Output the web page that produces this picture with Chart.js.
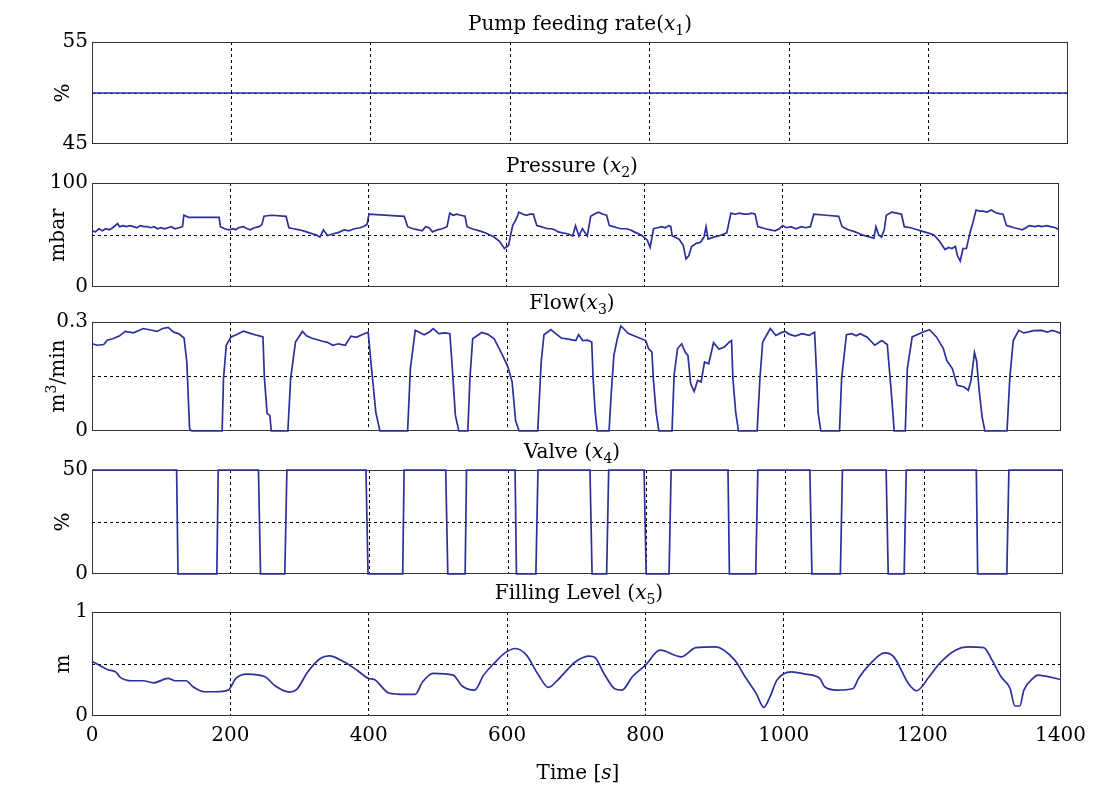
<!DOCTYPE html>
<html>
<head>
<meta charset="utf-8">
<script src="https://cdn.jsdelivr.net/npm/chart.js@4.4.1/dist/chart.umd.min.js"></script>
<style>
body { margin: 0; background: #fff; width: 1094px; height: 785px; position: relative; overflow: hidden; font-family: "DejaVu Serif", serif; color: #000; }
canvas { position: absolute; left: 0; }
.t { position: absolute; font-size: 20px; white-space: nowrap; transform: translate(-50%, -50%); }
.yl { position: absolute; font-size: 20px; white-space: nowrap; transform: translate(-50%, -50%) rotate(-90deg); }
sub { font-size: 14px; font-style: normal; }
sup { font-size: 14px; }
</style>
</head>
<body>
<canvas id="c1"></canvas>
<canvas id="c2"></canvas>
<canvas id="c3"></canvas>
<canvas id="c4"></canvas>
<canvas id="c5"></canvas>

<div class="t" style="left:580px;top:24px">Pump feeding rate(<i>x</i><sub>1</sub>)</div>
<div class="t" style="left:572px;top:166px">Pressure (<i>x</i><sub>2</sub>)</div>
<div class="t" style="left:572px;top:303px">Flow(<i>x</i><sub>3</sub>)</div>
<div class="t" style="left:572px;top:452px">Valve (<i>x</i><sub>4</sub>)</div>
<div class="t" style="left:579px;top:593px">Filling Level (<i>x</i><sub>5</sub>)</div>
<div class="t" style="left:578px;top:772px">Time [<i>s</i>]</div>

<div class="yl" style="left:62px;top:93px">%</div>
<div class="yl" style="left:57px;top:235px">mbar</div>
<div class="yl" style="left:56px;top:376px">m<sup>3</sup>/min</div>
<div class="yl" style="left:62px;top:522px">%</div>
<div class="yl" style="left:62px;top:664px">m</div>

<script>
// data
const pumpTime = [0, 1400];
const pumpValue = [50, 50];

const pressureTime = [0, 5, 10, 15, 20, 25, 30, 37, 40, 45, 50, 55, 60, 65, 70, 75, 80, 85, 90, 95, 100, 105, 110, 115, 120, 126, 131, 133, 140, 184, 186, 192, 198, 205, 208, 212, 219, 225, 229, 235, 242, 246, 249, 260, 281, 285, 292, 300, 306, 315, 325, 330, 335, 341, 348, 355, 359, 365, 372, 380, 388, 392, 398, 401, 452, 457, 465, 472, 478, 483, 488, 493, 500, 507, 514, 518, 523, 528, 534, 540, 543, 550, 561, 570, 582, 590, 597, 603, 609, 614, 618, 624, 629, 634, 639, 644, 650, 655, 660, 665, 670, 675, 681, 690, 696, 700, 705, 710, 717, 722, 727, 733, 740, 745, 749, 755, 760, 766, 773, 779, 785, 795, 799, 804, 808, 813, 819, 825, 830, 835, 838, 840, 850, 856, 860, 864, 868, 875, 881, 886, 889, 892, 900, 907, 915, 919, 925, 931, 937, 944, 950, 955, 960, 964, 970, 975, 982, 989, 995, 1000, 1005, 1012, 1019, 1027, 1033, 1040, 1045, 1063, 1081, 1086, 1095, 1105, 1112, 1120, 1132, 1135, 1139, 1143, 1147, 1150, 1158, 1165, 1172, 1176, 1185, 1195, 1200, 1210, 1219, 1227, 1235, 1240, 1245, 1250, 1253, 1257, 1261, 1266, 1271, 1275, 1280, 1285, 1290, 1296, 1302, 1310, 1319, 1324, 1330, 1335, 1341, 1347, 1352, 1357, 1365, 1370, 1375, 1382, 1388, 1395, 1400];
const pressureValue = [54, 53, 56, 54, 56, 55, 57, 61, 58, 59, 58, 59, 58, 57, 59, 58, 58, 57, 58, 56, 57, 56, 57, 58, 56, 57, 58, 69, 67, 67, 58, 56, 55, 56, 55, 57, 58, 56, 55, 57, 58, 60, 68, 69, 68, 57, 56, 55, 54, 52, 50, 48, 55, 49.5, 51, 52, 53, 55, 54, 56, 57, 58, 60, 70, 68, 58, 56, 55, 54, 58, 57, 53, 55, 56, 58, 71, 69, 70, 69, 68, 58, 56, 54, 52, 48, 44, 37, 40, 59, 65, 72, 70, 69, 70, 70, 59, 58, 57, 56, 56, 55, 53, 52, 51, 49, 59, 49, 56, 49, 68, 70, 72, 70, 69, 59, 58, 57, 56, 56, 55, 53, 50, 48, 45, 38, 56, 57, 58, 57, 59, 58, 49, 46, 40, 27, 30, 39, 42, 43, 48, 58, 46, 48, 49, 51, 52, 71, 70, 71, 70, 70, 71, 70, 58, 57, 56, 55, 54, 56, 59, 57, 58, 56, 58, 57, 58, 70, 69, 68, 58, 55, 53, 51, 49, 47, 58, 50, 48, 55, 69, 72, 71, 70, 58, 57, 55, 54, 52, 50, 44, 36, 38, 37, 39, 30, 25, 37, 37, 52, 61, 74, 73, 73, 72, 74, 71, 70, 59, 58, 57, 56, 55, 57, 59, 58, 59, 58, 59, 58, 57, 55];

const flowTime = [0, 8, 17, 22, 30, 40, 48, 60, 74, 85, 94, 102, 110, 118, 125, 133, 137, 141, 144, 188, 190, 194, 201, 210, 219, 230, 239, 247, 249, 253, 257, 259, 283, 287, 294, 304, 310, 317, 333, 340, 348, 356, 366, 374, 382, 390, 399, 403, 410, 416, 456, 460, 467, 480, 487, 493, 501, 510, 517, 520, 525, 530, 543, 546, 550, 563, 572, 581, 592, 601, 607, 612, 617, 644, 649, 653, 663, 670, 678, 690, 699, 703, 709, 716, 722, 724, 727, 730, 747, 750, 754, 759, 764, 770, 775, 783, 791, 800, 804, 809, 811, 815, 819, 838, 841, 846, 852, 857, 861, 865, 870, 875, 880, 885, 891, 898, 906, 914, 921, 924, 926, 930, 934, 961, 965, 969, 980, 988, 995, 1001, 1008, 1016, 1026, 1036, 1044, 1047, 1049, 1053, 1080, 1083, 1090, 1098, 1104, 1110, 1120, 1131, 1141, 1149, 1154, 1157, 1159, 1175, 1178, 1185, 1200, 1210, 1220, 1230, 1235, 1243, 1250, 1260, 1266, 1270, 1275, 1278, 1282, 1286, 1290, 1322, 1326, 1331, 1339, 1346, 1352, 1360, 1372, 1380, 1387, 1393, 1400];
const flowValue = [0.240, 0.236, 0.238, 0.250, 0.254, 0.262, 0.274, 0.270, 0.282, 0.278, 0.274, 0.282, 0.285, 0.272, 0.268, 0.256, 0.190, 0.006, 0, 0, 0.144, 0.236, 0.259, 0.266, 0.275, 0.268, 0.263, 0.259, 0.149, 0.048, 0.043, 0, 0, 0.144, 0.245, 0.274, 0.262, 0.256, 0.247, 0.244, 0.236, 0.240, 0.236, 0.261, 0.258, 0.265, 0.272, 0.190, 0.052, 0, 0, 0.172, 0.277, 0.265, 0.272, 0.282, 0.268, 0.270, 0.268, 0.190, 0.043, 0, 0, 0.144, 0.254, 0.271, 0.266, 0.254, 0.213, 0.176, 0.135, 0.029, 0, 0, 0.190, 0.265, 0.279, 0.268, 0.256, 0.252, 0.249, 0.265, 0.249, 0.250, 0.245, 0.144, 0.052, 0, 0, 0.098, 0.208, 0.254, 0.289, 0.278, 0.268, 0.262, 0.256, 0.249, 0.227, 0.217, 0.144, 0.052, 0, 0, 0.153, 0.227, 0.240, 0.217, 0.208, 0.130, 0.109, 0.139, 0.135, 0.190, 0.185, 0.243, 0.225, 0.232, 0.245, 0.249, 0.144, 0.052, 0, 0, 0.144, 0.245, 0.282, 0.263, 0.270, 0.274, 0.266, 0.261, 0.268, 0.263, 0.272, 0.153, 0.052, 0, 0, 0.144, 0.265, 0.268, 0.262, 0.268, 0.258, 0.236, 0.249, 0.238, 0.126, 0.052, 0, 0, 0.172, 0.259, 0.272, 0.279, 0.259, 0.227, 0.194, 0.172, 0.126, 0.121, 0.112, 0.139, 0.216, 0.194, 0.107, 0.039, 0, 0, 0.144, 0.249, 0.277, 0.270, 0.272, 0.276, 0.277, 0.272, 0.277, 0.274, 0.268];

const valveTime = [0, 122, 124, 180, 182, 240, 243, 278, 281, 395, 398, 448, 450, 510, 513, 538, 540, 610, 612, 640, 643, 718, 721, 742, 745, 796, 799, 832, 835, 917, 919, 957, 960, 1035, 1038, 1079, 1082, 1145, 1148, 1171, 1174, 1275, 1277, 1319, 1322, 1400];
const valveValue = [50, 50, 0, 0, 50, 50, 0, 0, 50, 50, 0, 0, 50, 50, 0, 0, 50, 50, 0, 0, 50, 50, 0, 0, 50, 50, 0, 0, 50, 50, 0, 0, 50, 50, 0, 0, 50, 50, 0, 0, 50, 50, 0, 0, 50, 50];

const levelTime = [0, 22, 35, 40, 58, 74, 89, 110, 120, 136, 146, 162, 177, 197, 208, 224, 250, 265, 286, 296, 312, 330, 343, 364, 384, 400, 408, 428, 441, 467, 478, 493, 522, 535, 553, 566, 581, 597, 612, 628, 644, 660, 673, 699, 719, 727, 740, 755, 766, 781, 800, 821, 852, 873, 901, 929, 944, 960, 971, 980, 990, 1011, 1031, 1052, 1059, 1077, 1100, 1108, 1123, 1146, 1159, 1180, 1192, 1210, 1225, 1248, 1266, 1289, 1301, 1314, 1327, 1334, 1341, 1347, 1360, 1367, 1400];
const levelValue = [0.527, 0.447, 0.420, 0.377, 0.339, 0.339, 0.319, 0.361, 0.339, 0.339, 0.281, 0.233, 0.233, 0.249, 0.361, 0.403, 0.377, 0.288, 0.230, 0.256, 0.425, 0.553, 0.578, 0.521, 0.435, 0.361, 0.351, 0.224, 0.211, 0.208, 0.329, 0.409, 0.393, 0.288, 0.249, 0.393, 0.505, 0.607, 0.649, 0.585, 0.409, 0.275, 0.345, 0.521, 0.575, 0.562, 0.409, 0.265, 0.249, 0.377, 0.489, 0.633, 0.569, 0.658, 0.665, 0.537, 0.377, 0.217, 0.083, 0.185, 0.345, 0.425, 0.403, 0.361, 0.281, 0.249, 0.265, 0.361, 0.489, 0.607, 0.569, 0.313, 0.243, 0.377, 0.505, 0.633, 0.665, 0.658, 0.537, 0.377, 0.265, 0.096, 0.096, 0.249, 0.361, 0.393, 0.351];

const xTicks = [0, 200, 400, 600, 800, 1000, 1200, 1400];

const lineColor = "#2b309b";

Chart.defaults.font.family = "DejaVu Serif";
Chart.defaults.font.size = 20;
Chart.defaults.color = "#000";

const frame = {
    id: "frame",
    beforeDatasetsDraw(chart) {
        const a = chart.chartArea;
        const ctx = chart.ctx;
        ctx.save();
        ctx.strokeStyle = "#333";
        ctx.lineWidth = 1;
        ctx.strokeRect(Math.round(a.left) + 0.5, Math.round(a.top) + 0.5, Math.round(a.right - a.left) - 1, Math.round(a.bottom - a.top) - 1);
        ctx.restore();
    }
};

function panel(id, top, bottom, right, times, values, yMin, yMax, yText, showX, tension) {

    const pad = 22;
    const xHeight = showX ? 36 : 0;
    const canvas = document.getElementById(id);
    const h = bottom - top + pad + xHeight + pad;

    canvas.width = 1094;
    canvas.height = h;
    canvas.style.width = "1094px";
    canvas.style.height = h + "px";
    canvas.style.top = (top - pad) + "px";

    new Chart(canvas, {
        type: "line",
        data: {
            datasets: [{
                data: times.map((t, i) => ({ x: t, y: values[i] })),
                borderColor: lineColor,
                borderWidth: 1.7,
                pointRadius: 0,
                tension: tension,
                cubicInterpolationMode: tension ? "monotone" : "default",
                clip: 3
            }]
        },
        options: {
            responsive: false,
            animation: false,
            layout: { padding: { top: pad, bottom: pad, left: 0, right: 1094 - right } },
            plugins: { legend: { display: false }, tooltip: { enabled: false } },
            scales: {
                x: {
                    type: "linear",
                    min: 0,
                    max: 1400,
                    afterBuildTicks: s => { s.ticks = xTicks.map(v => ({ value: v })); },
                    afterFit: s => { s.height = xHeight; },
                    ticks: { display: showX, autoSkip: false, maxRotation: 0, padding: 8, callback: v => String(v) },
                    grid: {
                        drawTicks: false,
                        color: c => (c.tick && c.tick.value > 0 && c.tick.value < 1400) ? "#000" : "rgba(0,0,0,0)",
                        lineWidth: 1,
                        borderDash: [3, 3]
                    },
                    border: { display: false, dash: [3, 3] }
                },
                y: {
                    min: yMin,
                    max: yMax,
                    afterBuildTicks: s => { s.ticks = [{ value: yMin }, { value: (yMin + yMax) / 2 }, { value: yMax }]; },
                    afterFit: s => { s.width = 92; },
                    ticks: {
                        padding: 4,
                        callback: (v, i) => yText[i]
                    },
                    grid: {
                        drawTicks: false,
                        color: c => c.index === 1 ? "#000" : "rgba(0,0,0,0)",
                        lineWidth: 1,
                        borderDash: [3, 3]
                    },
                    border: { display: false, dash: [3, 3] }
                }
            }
        },
        plugins: [frame]
    });
}

panel("c1", 42, 144, 1068, pumpTime, pumpValue, 45, 55, ["45", "", "55"], false, 0);
panel("c2", 183, 287, 1059, pressureTime, pressureValue, 0, 100, ["0", "", "100"], false, 0);
panel("c3", 322, 431, 1061, flowTime, flowValue, 0, 0.3, ["0", "", "0.3"], false, 0);
panel("c4", 470, 574, 1063, valveTime, valveValue, 0, 50, ["0", "", "50"], false, 0);
panel("c5", 612, 716, 1064, levelTime, levelValue, 0, 1, ["0", "", "1"], true, 0.4);
</script>
</body>
</html>
